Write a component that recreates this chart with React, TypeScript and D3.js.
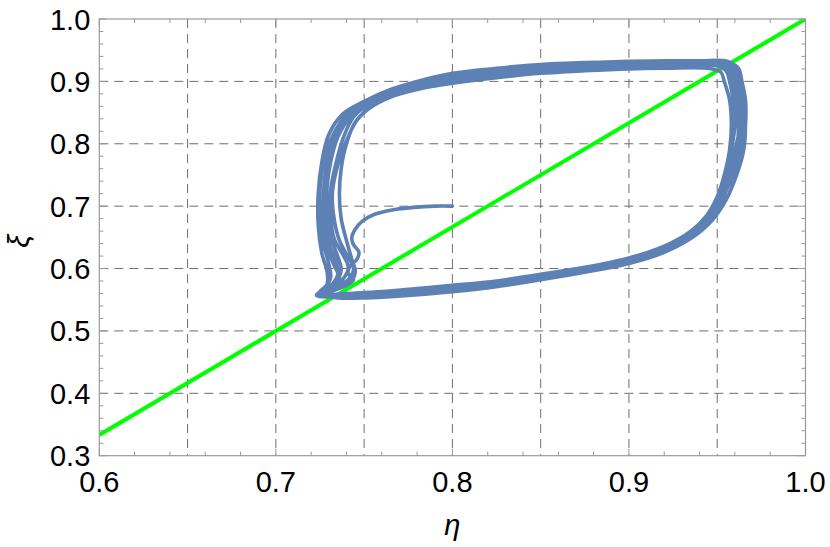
import { useEffect, useRef } from 'react';
import * as d3 from 'd3';

// axis setup
const etaDomain = [0.6, 1.0];
const xiDomain = [0.3, 1.0];
const etaTickValues = [0.6, 0.7, 0.8, 0.9, 1.0];
const etaTickLabels = ["0.6", "0.7", "0.8", "0.9", "1.0"];
const xiTickValues = [0.3, 0.4, 0.5, 0.6, 0.7, 0.8, 0.9, 1.0];
const xiTickLabels = ["0.3", "0.4", "0.5", "0.6", "0.7", "0.8", "0.9", "1.0"];
const etaGrid = [0.65, 0.7, 0.75, 0.8, 0.85, 0.9, 0.95];
const xiGrid = [0.4, 0.5, 0.6, 0.7, 0.8, 0.9];

// diagonal xi = (5 eta - 2) / 3
const diagonalEta = [0.6, 1.0];
const diagonalXi = [0.3333, 1.0];

// trajectory: start at (0.8, 0.7), then the loops
const transient = [
  [0.80, 0.700], [0.79, 0.700], [0.778, 0.698], [0.766, 0.694], [0.756, 0.687],
  [0.749, 0.676], [0.745, 0.663], [0.743, 0.650], [0.744, 0.638], [0.747, 0.627],
  [0.746, 0.615], [0.742, 0.604], [0.741, 0.592], [0.744, 0.582], [0.739, 0.572],
  [0.730, 0.563], [0.726, 0.558],
];
const loop1 = [
  [0.726, 0.558], [0.74, 0.560], [0.76, 0.563], [0.78, 0.568], [0.80, 0.573], [0.825, 0.580],
  [0.85, 0.591], [0.875, 0.602], [0.90, 0.617], [0.92, 0.636], [0.935, 0.660], [0.944, 0.685],
  [0.950, 0.715], [0.954, 0.75], [0.957, 0.79], [0.958, 0.83], [0.957, 0.87], [0.954, 0.90],
  [0.952, 0.915], [0.945, 0.921], [0.92, 0.921], [0.90, 0.920], [0.875, 0.917], [0.85, 0.913],
  [0.825, 0.906], [0.80, 0.897], [0.78, 0.887], [0.765, 0.875], [0.753, 0.857], [0.745, 0.835],
  [0.740, 0.80], [0.737, 0.76], [0.736, 0.72], [0.737, 0.68], [0.740, 0.645], [0.743, 0.615],
  [0.745, 0.595], [0.742, 0.577], [0.733, 0.565], [0.725, 0.558],
];
const loop2 = [
  [0.725, 0.558], [0.735, 0.553], [0.75, 0.553], [0.775, 0.557], [0.80, 0.563], [0.825, 0.571],
  [0.85, 0.582], [0.875, 0.594], [0.90, 0.608], [0.92, 0.626], [0.936, 0.650], [0.947, 0.677],
  [0.955, 0.71], [0.961, 0.75], [0.965, 0.79], [0.966, 0.83], [0.965, 0.87], [0.963, 0.90],
  [0.961, 0.922], [0.956, 0.932], [0.94, 0.933], [0.92, 0.933], [0.90, 0.932], [0.875, 0.930],
  [0.85, 0.927], [0.825, 0.921], [0.80, 0.913], [0.78, 0.900], [0.765, 0.887], [0.750, 0.868],
  [0.738, 0.848], [0.730, 0.815], [0.726, 0.77], [0.724, 0.72], [0.724, 0.67], [0.726, 0.625],
  [0.729, 0.595], [0.729, 0.575], [0.724, 0.559],
];
const loop3 = [
  [0.724, 0.559], [0.735, 0.556], [0.75, 0.557], [0.775, 0.561], [0.80, 0.567], [0.825, 0.575],
  [0.85, 0.586], [0.875, 0.598], [0.90, 0.612], [0.92, 0.631], [0.935, 0.655], [0.945, 0.681],
  [0.952, 0.712], [0.957, 0.75], [0.961, 0.79], [0.962, 0.83], [0.961, 0.87], [0.959, 0.90],
  [0.957, 0.918], [0.952, 0.927], [0.94, 0.928], [0.92, 0.928], [0.90, 0.927], [0.875, 0.925],
  [0.85, 0.921], [0.825, 0.915], [0.80, 0.906], [0.78, 0.895], [0.765, 0.882], [0.752, 0.864],
  [0.742, 0.842], [0.735, 0.81], [0.731, 0.77], [0.729, 0.73], [0.729, 0.69], [0.731, 0.65],
  [0.735, 0.62], [0.737, 0.598], [0.734, 0.578], [0.727, 0.562],
];
const loop4 = [
  [0.727, 0.562], [0.738, 0.558], [0.75, 0.559], [0.775, 0.563], [0.80, 0.569], [0.825, 0.577],
  [0.85, 0.588], [0.875, 0.600], [0.90, 0.614], [0.92, 0.633], [0.935, 0.657], [0.944, 0.683],
  [0.951, 0.713], [0.958, 0.75], [0.963, 0.79], [0.965, 0.83], [0.964, 0.87], [0.962, 0.90],
  [0.960, 0.920], [0.955, 0.929], [0.94, 0.930], [0.92, 0.930], [0.90, 0.929], [0.875, 0.927],
  [0.85, 0.923], [0.825, 0.917], [0.80, 0.909], [0.78, 0.898], [0.765, 0.885], [0.751, 0.867],
  [0.740, 0.845], [0.733, 0.812], [0.729, 0.77], [0.727, 0.72], [0.727, 0.675], [0.729, 0.635],
  [0.733, 0.605], [0.736, 0.585], [0.733, 0.570], [0.726, 0.560],
];
const loop5 = [
  [0.726, 0.560], [0.737, 0.555], [0.75, 0.555], [0.775, 0.559], [0.80, 0.565], [0.825, 0.573],
  [0.85, 0.584], [0.875, 0.596], [0.90, 0.610], [0.92, 0.628], [0.934, 0.652], [0.944, 0.679],
  [0.950, 0.71], [0.955, 0.75], [0.958, 0.79], [0.960, 0.83], [0.959, 0.87], [0.957, 0.90],
  [0.955, 0.917], [0.950, 0.925], [0.94, 0.926], [0.92, 0.926], [0.90, 0.925], [0.875, 0.922],
  [0.85, 0.918], [0.825, 0.911], [0.80, 0.902], [0.78, 0.891], [0.765, 0.879], [0.754, 0.861],
  [0.746, 0.838], [0.740, 0.805], [0.735, 0.765], [0.732, 0.72], [0.733, 0.68], [0.736, 0.645],
  [0.741, 0.618], [0.744, 0.600], [0.741, 0.582], [0.732, 0.568], [0.723, 0.557],
];
const loop6 = [
  [0.723, 0.557], [0.735, 0.554], [0.75, 0.555], [0.775, 0.560], [0.80, 0.566], [0.825, 0.574],
  [0.85, 0.585], [0.875, 0.597], [0.90, 0.611], [0.92, 0.630], [0.936, 0.654], [0.946, 0.681],
  [0.953, 0.713], [0.959, 0.75], [0.964, 0.79], [0.966, 0.83], [0.966, 0.87], [0.964, 0.90],
  [0.962, 0.921], [0.957, 0.930], [0.94, 0.931], [0.92, 0.931], [0.90, 0.930], [0.875, 0.928],
  [0.85, 0.924], [0.825, 0.918], [0.80, 0.910], [0.78, 0.899], [0.765, 0.886], [0.751, 0.868],
  [0.740, 0.846], [0.732, 0.812], [0.727, 0.77], [0.725, 0.725], [0.725, 0.68], [0.727, 0.64],
  [0.730, 0.607], [0.731, 0.585], [0.727, 0.566], [0.723, 0.558],
];
const loop7 = [
  [0.723, 0.558], [0.736, 0.557], [0.75, 0.558], [0.775, 0.562], [0.80, 0.568], [0.825, 0.576],
  [0.85, 0.587], [0.875, 0.599], [0.90, 0.613], [0.92, 0.632], [0.935, 0.656], [0.945, 0.682],
  [0.952, 0.714], [0.956, 0.75], [0.960, 0.79], [0.963, 0.83], [0.963, 0.87], [0.960, 0.90],
  [0.958, 0.919], [0.953, 0.928], [0.94, 0.929], [0.92, 0.929], [0.90, 0.928], [0.875, 0.926],
  [0.85, 0.922], [0.825, 0.916], [0.80, 0.907], [0.78, 0.896], [0.765, 0.883], [0.753, 0.865],
  [0.744, 0.843], [0.738, 0.808], [0.734, 0.768], [0.731, 0.725], [0.731, 0.685], [0.733, 0.648],
  [0.738, 0.622], [0.741, 0.602], [0.738, 0.583], [0.730, 0.567], [0.724, 0.559],
];
const loop8 = [
  [0.724, 0.559], [0.736, 0.555], [0.75, 0.556], [0.775, 0.560], [0.80, 0.566], [0.825, 0.574],
  [0.85, 0.585], [0.875, 0.597], [0.90, 0.611], [0.92, 0.629], [0.935, 0.653], [0.946, 0.680],
  [0.953, 0.711], [0.958, 0.75], [0.962, 0.79], [0.964, 0.83], [0.963, 0.87], [0.961, 0.90],
  [0.959, 0.920], [0.954, 0.929], [0.94, 0.930], [0.92, 0.930], [0.90, 0.929], [0.875, 0.927],
  [0.85, 0.923], [0.825, 0.917], [0.80, 0.908], [0.78, 0.897], [0.765, 0.884], [0.752, 0.866],
  [0.741, 0.844], [0.734, 0.811], [0.730, 0.77], [0.728, 0.725], [0.728, 0.68], [0.730, 0.64],
  [0.734, 0.612], [0.735, 0.590], [0.731, 0.572], [0.725, 0.560],
];

const width = 830;
const height = 547;
const margin = { top: 19, right: 24.5, bottom: 91.3, left: 99.3 };
const font = "'Liberation Sans', Arial, sans-serif";

export default function App() {
  const svgRef = useRef<SVGSVGElement>(null);

  useEffect(() => {
    const svg = d3.select(svgRef.current);
    svg.selectAll("*").remove();

    const x = d3.scaleLinear().domain(etaDomain).range([margin.left, width - margin.right]);
    const y = d3.scaleLinear().domain(xiDomain).range([height - margin.bottom, margin.top]);
    const [x0, x1] = x.range();
    const [y0, y1] = y.range();

    svg.append("rect").attr("width", width).attr("height", height).attr("fill", "white");

    // grid lines
    svg.append("g").selectAll("line").data(etaGrid).enter().append("line")
      .attr("x1", d => x(d)).attr("x2", d => x(d))
      .attr("y1", y1).attr("y2", y0)
      .attr("stroke", "#6e6e6e").attr("stroke-width", 1).attr("stroke-dasharray", "9,6");
    svg.append("g").selectAll("line").data(xiGrid).enter().append("line")
      .attr("x1", x0).attr("x2", x1)
      .attr("y1", d => y(d)).attr("y2", d => y(d))
      .attr("stroke", "#6e6e6e").attr("stroke-width", 1).attr("stroke-dasharray", "9,6");

    // diagonal
    const clip = svg.append("clipPath").attr("id", "plotclip");
    clip.append("rect").attr("x", x0).attr("y", y1).attr("width", x1 - x0).attr("height", y0 - y1);

    const diag = diagonalEta.map((e, i) => [e, diagonalXi[i]]);
    svg.append("path")
      .attr("clip-path", "url(#plotclip)")
      .attr("d", d3.line().x(d => x(d[0])).y(d => y(d[1]))(diag as [number, number][]))
      .attr("fill", "none").attr("stroke", "#00ff00").attr("stroke-width", 4);

    // trajectory
    const loops = [loop1, loop2, loop3, loop4, loop5, loop6, loop7, loop8];
    let traj = transient.slice();
    loops.forEach(l => { traj = traj.concat(l.slice(1)); });
    const line = d3.line()
      .x(d => x(d[0])).y(d => y(d[1]))
      .curve(d3.curveCatmullRom.alpha(0.5));
    svg.append("path")
      .attr("clip-path", "url(#plotclip)")
      .attr("d", line(traj as [number, number][]))
      .attr("fill", "none").attr("stroke", "#5e81b5").attr("stroke-width", 3.6)
      .attr("stroke-linejoin", "round").attr("stroke-linecap", "round");

    // frame
    svg.append("rect")
      .attr("x", x0).attr("y", y1).attr("width", x1 - x0).attr("height", y0 - y1)
      .attr("fill", "none").attr("stroke", "#999").attr("stroke-width", 1.2);

    // ticks, inward on all four sides
    const ticks = svg.append("g").attr("stroke", "#999").attr("stroke-width", 1);
    x.ticks(20).forEach(t => {
      const major = etaTickValues.some(v => Math.abs(v - t) < 1e-6);
      const len = major ? 7 : 4;
      ticks.append("line").attr("x1", x(t)).attr("x2", x(t)).attr("y1", y0).attr("y2", y0 - len);
      ticks.append("line").attr("x1", x(t)).attr("x2", x(t)).attr("y1", y1).attr("y2", y1 + len);
    });
    y.ticks(35).forEach(t => {
      const major = xiTickValues.some(v => Math.abs(v - t) < 1e-6);
      const len = major ? 7 : 4;
      ticks.append("line").attr("y1", y(t)).attr("y2", y(t)).attr("x1", x0).attr("x2", x0 + len);
      ticks.append("line").attr("y1", y(t)).attr("y2", y(t)).attr("x1", x1).attr("x2", x1 - len);
    });

    // tick labels
    svg.append("g").selectAll("text").data(etaTickValues).enter().append("text")
      .attr("x", d => x(d)).attr("y", y0 + 36)
      .attr("text-anchor", "middle")
      .attr("font-family", font).attr("font-size", 29).attr("fill", "#000")
      .text((d, i) => etaTickLabels[i]);
    svg.append("g").selectAll("text").data(xiTickValues).enter().append("text")
      .attr("x", x0 - 9).attr("y", d => y(d) + 10.5)
      .attr("text-anchor", "end")
      .attr("font-family", font).attr("font-size", 29).attr("fill", "#000")
      .text((d, i) => xiTickLabels[i]);

    // axis labels
    svg.append("text")
      .attr("x", (x0 + x1) / 2).attr("y", 535)
      .attr("text-anchor", "middle")
      .attr("font-family", font).attr("font-size", 29).attr("font-style", "italic")
      .text("η");
    svg.append("text")
      .attr("transform", `translate(29,${(y0 + y1) / 2 + 4}) rotate(-90)`)
      .attr("text-anchor", "middle")
      .attr("font-family", font).attr("font-size", 29).attr("font-style", "italic")
      .text("ξ");
  }, []);

  return (
    <div style={{ position: "absolute", left: 0, top: 0 }}>
      <svg ref={svgRef} width={width} height={height} style={{ display: "block" }}></svg>
    </div>
  );
}
